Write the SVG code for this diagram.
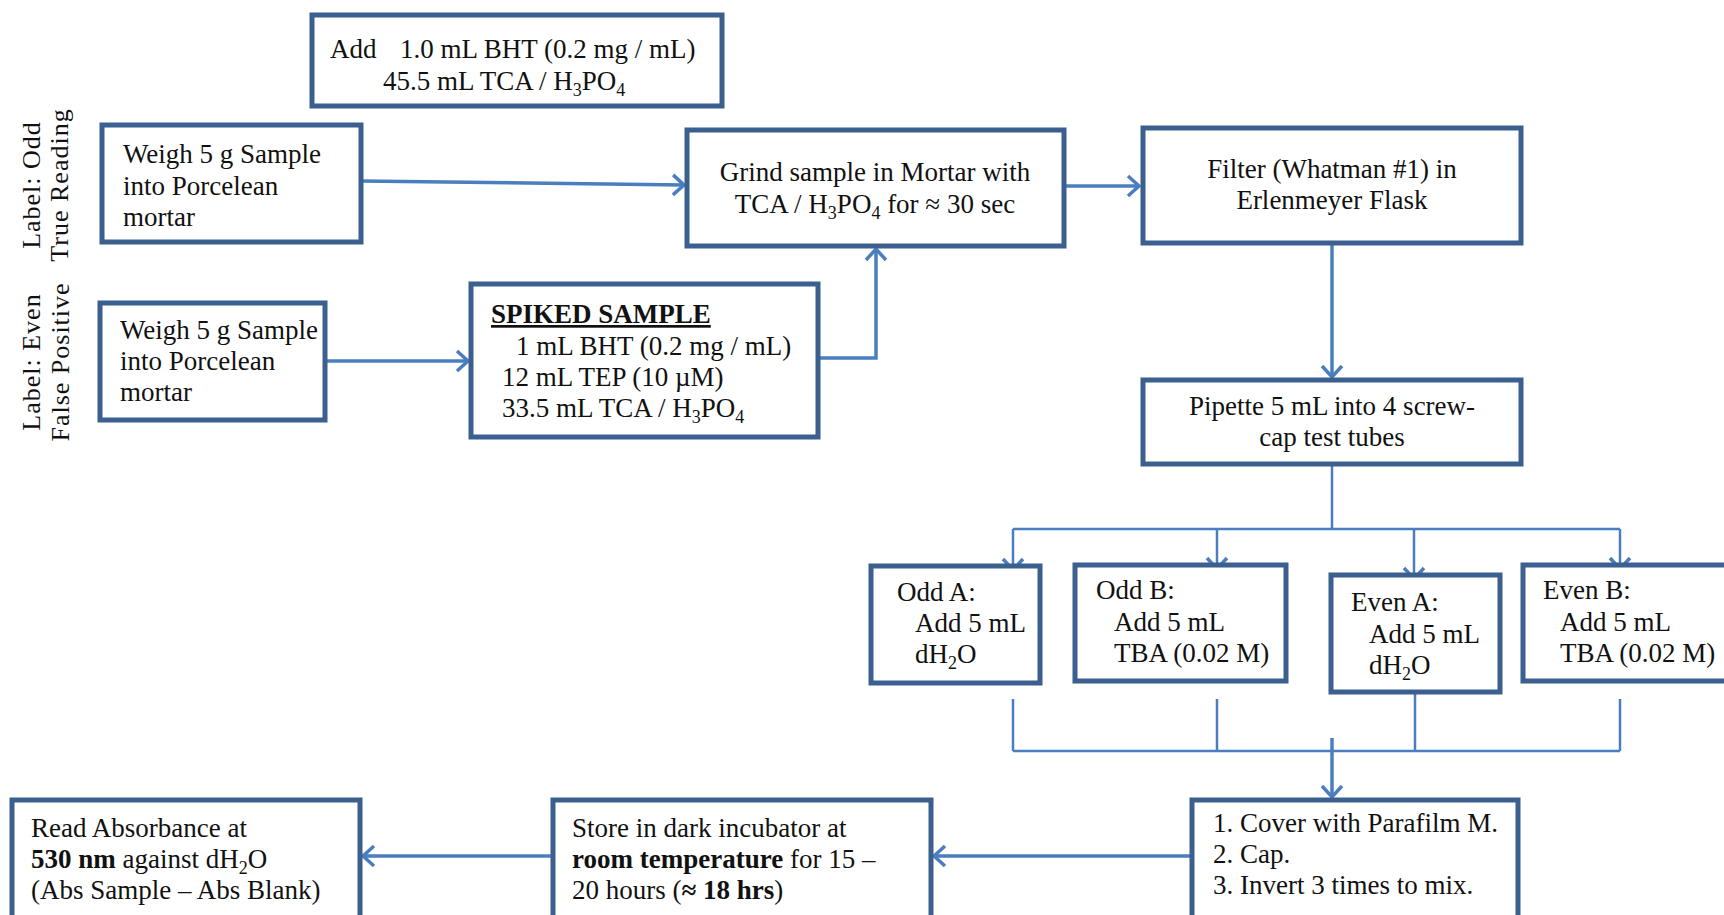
<svg xmlns="http://www.w3.org/2000/svg" width="1724" height="915" viewBox="0 0 1724 915">
  <style>
    .box { fill: #ffffff; stroke: #3b5f8e; stroke-width: 5; }
    .t { font-family: "Liberation Serif", "DejaVu Serif", serif; font-size: 27px; fill: #111111; }
    .mid { text-anchor: middle; }
    .lbl { font-family: "Liberation Serif", "DejaVu Serif", serif; font-size: 26px; fill: #111111; letter-spacing: 1px; text-anchor: middle; }
    .sub { font-size: 18px; }
    .b { font-weight: bold; }
    .conn { fill: none; stroke: #4a7ebe; stroke-width: 3.5; }
    .bus { fill: none; stroke: #4a7ebe; stroke-width: 2.5; }
  </style>
  <defs>
    <marker id="arrow" markerUnits="userSpaceOnUse" markerWidth="16" markerHeight="24" refX="13" refY="12" orient="auto">
      <path d="M2,2 L13,12 L2,22" fill="none" stroke="#4a7ebe" stroke-width="3.5"/>
    </marker>
  </defs>

  <rect width="1724" height="915" fill="#ffffff"/>

  <!-- side labels -->
  <g id="label-odd">
    <text class="lbl" transform="translate(40,185) rotate(-90)">Label: Odd</text>
    <text class="lbl" transform="translate(68,185) rotate(-90)">True Reading</text>
  </g>
  <g id="label-even">
    <text class="lbl" transform="translate(40,362) rotate(-90)">Label: Even</text>
    <text class="lbl" transform="translate(69,362) rotate(-90)">False Positive</text>
  </g>

  <!-- connectors -->
  <g id="connectors">
    <line class="conn" x1="361" y1="181" x2="684" y2="185" marker-end="url(#arrow)"/>
    <line class="conn" x1="327" y1="361" x2="468" y2="361" marker-end="url(#arrow)"/>
    <polyline class="conn" points="819,358 876,358 876,249" marker-end="url(#arrow)"/>
    <line class="conn" x1="1064" y1="186" x2="1139" y2="186" marker-end="url(#arrow)"/>
    <line class="conn" x1="1332" y1="244" x2="1332" y2="377" marker-end="url(#arrow)"/>

    <!-- split to the four tubes -->
    <line class="bus" x1="1332" y1="465" x2="1332" y2="529"/>
    <line class="bus" x1="1013" y1="529" x2="1620" y2="529"/>
    <line class="bus" x1="1013" y1="529" x2="1013" y2="570" marker-end="url(#arrow)"/>
    <line class="bus" x1="1217" y1="529" x2="1217" y2="569" marker-end="url(#arrow)"/>
    <line class="bus" x1="1414" y1="529" x2="1414" y2="579" marker-end="url(#arrow)"/>
    <line class="bus" x1="1620" y1="529" x2="1620" y2="569" marker-end="url(#arrow)"/>

    <!-- merge from the four tubes -->
    <line class="bus" x1="1013" y1="699" x2="1013" y2="751"/>
    <line class="bus" x1="1217" y1="699" x2="1217" y2="751"/>
    <line class="bus" x1="1415" y1="693" x2="1415" y2="751"/>
    <line class="bus" x1="1620" y1="699" x2="1620" y2="751"/>
    <line class="bus" x1="1013" y1="751" x2="1620" y2="751"/>
    <line class="conn" x1="1332" y1="738" x2="1332" y2="797" marker-end="url(#arrow)"/>

    <line class="conn" x1="1190" y1="856" x2="934" y2="856" marker-end="url(#arrow)"/>
    <line class="conn" x1="553" y1="856" x2="363" y2="856" marker-end="url(#arrow)"/>
  </g>

  <!-- nodes -->
  <g id="add-reagents">
    <rect class="box" x="312" y="15" width="410" height="91"/>
    <text class="t" x="330" y="58">Add</text>
    <text class="t" x="400" y="58">1.0 mL BHT (0.2 mg / mL)</text>
    <text class="t" x="383" y="90">45.5 mL TCA / H<tspan class="sub" dy="6">3</tspan><tspan dy="-6">PO</tspan><tspan class="sub" dy="6">4</tspan></text>
  </g>

  <g id="weigh-odd">
    <rect class="box" x="102" y="125" width="259" height="117"/>
    <text class="t" x="123" y="163">Weigh 5 g Sample</text>
    <text class="t" x="123" y="195">into Porcelean</text>
    <text class="t" x="123" y="226">mortar</text>
  </g>

  <g id="weigh-even">
    <rect class="box" x="100" y="303" width="225" height="117"/>
    <text class="t" x="120" y="339">Weigh 5 g Sample</text>
    <text class="t" x="120" y="370">into Porcelean</text>
    <text class="t" x="120" y="401">mortar</text>
  </g>

  <g id="spiked-sample">
    <rect class="box" x="471" y="284" width="347" height="153"/>
    <text class="t b" x="491" y="323" text-decoration="underline">SPIKED SAMPLE</text>
    <text class="t" x="516" y="355">1 mL BHT (0.2 mg / mL)</text>
    <text class="t" x="502" y="386">12 mL TEP (10 µM)</text>
    <text class="t" x="502" y="417">33.5 mL TCA / H<tspan class="sub" dy="6">3</tspan><tspan dy="-6">PO</tspan><tspan class="sub" dy="6">4</tspan></text>
  </g>

  <g id="grind">
    <rect class="box" x="687" y="130" width="377" height="116"/>
    <text class="t mid" x="875" y="181">Grind sample in Mortar with</text>
    <text class="t mid" x="875" y="213">TCA / H<tspan class="sub" dy="6">3</tspan><tspan dy="-6">PO</tspan><tspan class="sub" dy="6">4</tspan><tspan dy="-6"> for ≈ 30 sec</tspan></text>
  </g>

  <g id="filter">
    <rect class="box" x="1143" y="128" width="378" height="115"/>
    <text class="t mid" x="1332" y="178">Filter (Whatman #1) in</text>
    <text class="t mid" x="1332" y="209">Erlenmeyer Flask</text>
  </g>

  <g id="pipette">
    <rect class="box" x="1143" y="380" width="378" height="84"/>
    <text class="t mid" x="1332" y="415">Pipette 5 mL into 4 screw-</text>
    <text class="t mid" x="1332" y="446">cap test tubes</text>
  </g>

  <g id="odd-a">
    <rect class="box" x="871" y="566" width="169" height="117"/>
    <text class="t" x="897" y="601">Odd A:</text>
    <text class="t" x="915" y="632">Add 5 mL</text>
    <text class="t" x="915" y="663">dH<tspan class="sub" dy="6">2</tspan><tspan dy="-6">O</tspan></text>
  </g>

  <g id="odd-b">
    <rect class="box" x="1075" y="565" width="211" height="116"/>
    <text class="t" x="1096" y="599">Odd B:</text>
    <text class="t" x="1114" y="631">Add 5 mL</text>
    <text class="t" x="1114" y="662">TBA (0.02 M)</text>
  </g>

  <g id="even-a">
    <rect class="box" x="1331" y="575" width="169" height="117"/>
    <text class="t" x="1351" y="611">Even A:</text>
    <text class="t" x="1369" y="643">Add 5 mL</text>
    <text class="t" x="1369" y="674">dH<tspan class="sub" dy="6">2</tspan><tspan dy="-6">O</tspan></text>
  </g>

  <g id="even-b">
    <rect class="box" x="1523" y="565" width="220" height="116"/>
    <text class="t" x="1543" y="599">Even B:</text>
    <text class="t" x="1560" y="631">Add 5 mL</text>
    <text class="t" x="1560" y="662">TBA (0.02 M)</text>
  </g>

  <g id="cover-cap-invert">
    <rect class="box" x="1192" y="800" width="326" height="120"/>
    <text class="t" x="1213" y="832">1. Cover with Parafilm M.</text>
    <text class="t" x="1213" y="863">2. Cap.</text>
    <text class="t" x="1213" y="894">3. Invert 3 times to mix.</text>
  </g>

  <g id="store">
    <rect class="box" x="553" y="800" width="378" height="120"/>
    <text class="t" x="572" y="837">Store in dark incubator at</text>
    <text class="t" x="572" y="868"><tspan class="b">room temperature</tspan> for 15 –</text>
    <text class="t" x="572" y="899">20 hours (<tspan class="b">≈ 18 hrs</tspan>)</text>
  </g>

  <g id="read-absorbance">
    <rect class="box" x="12" y="800" width="348" height="120"/>
    <text class="t" x="31" y="837">Read Absorbance at</text>
    <text class="t" x="31" y="868"><tspan class="b">530 nm</tspan> against dH<tspan class="sub" dy="6">2</tspan><tspan dy="-6">O</tspan></text>
    <text class="t" x="31" y="899">(Abs Sample – Abs Blank)</text>
  </g>
</svg>
